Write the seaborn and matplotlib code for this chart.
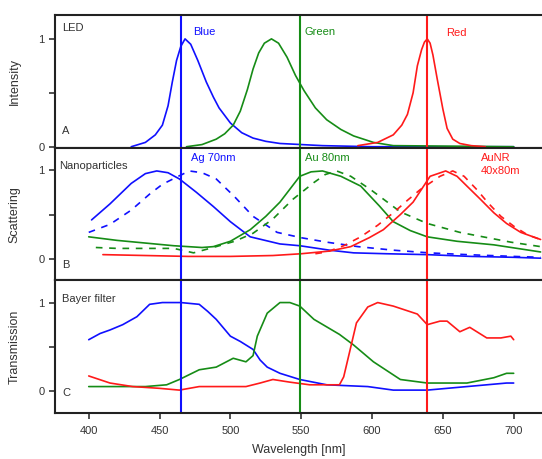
import pandas as pd
import matplotlib
matplotlib.use("Agg")
import matplotlib.pyplot as plt
import seaborn as sns

# LED emission (panel A)
led_blue_x = [430, 440, 447, 452, 456, 459, 462, 465, 468, 472, 477, 483, 488, 492, 500, 508, 516, 525, 535, 550, 565, 600, 700]
led_blue_y = [0.0, 0.04, 0.11, 0.2, 0.38, 0.6, 0.8, 0.93, 1.0, 0.95, 0.8, 0.6, 0.46, 0.36, 0.22, 0.13, 0.08, 0.05, 0.03, 0.02, 0.01, 0.0, 0.0]
led_green_x = [469, 480, 490, 496, 502, 507, 512, 516, 520, 524, 529, 534, 540, 546, 552, 560, 568, 578, 587, 601, 615, 700]
led_green_y = [0.0, 0.02, 0.07, 0.12, 0.2, 0.33, 0.53, 0.72, 0.87, 0.96, 1.0, 0.96, 0.83, 0.66, 0.52, 0.36, 0.25, 0.16, 0.1, 0.04, 0.01, 0.0]
led_red_x = [590, 604, 615, 621, 625, 629, 632, 635, 637, 639, 641, 643, 646, 650, 653, 657, 662, 670, 680]
led_red_y = [0.01, 0.04, 0.11, 0.2, 0.3, 0.5, 0.75, 0.9, 0.97, 1.0, 0.96, 0.85, 0.63, 0.35, 0.17, 0.07, 0.03, 0.01, 0.0]

# nanoparticle scattering (panel B)
ag_x = [402, 415, 430, 440, 448, 456, 464, 476, 488, 500, 514, 535, 549, 570, 587, 610, 639, 670, 700, 719]
ag_y = [0.44, 0.62, 0.85, 0.96, 0.99, 0.97, 0.9, 0.75, 0.59, 0.42, 0.25, 0.17, 0.15, 0.1, 0.07, 0.06, 0.05, 0.03, 0.02, 0.01]
ag_d_x = [400, 415, 430, 443, 452, 462, 471, 480, 490, 503, 516, 533, 550, 568, 590, 615, 640, 667, 700, 719]
ag_d_y = [0.3, 0.39, 0.55, 0.73, 0.84, 0.92, 0.99, 0.97, 0.9, 0.7, 0.48, 0.3, 0.24, 0.19, 0.14, 0.1, 0.07, 0.05, 0.03, 0.02]
au_x = [400, 420, 440, 460, 480, 488, 500, 514, 525, 535, 549, 557, 565, 578, 592, 605, 615, 627, 639, 660, 686, 719]
au_y = [0.25, 0.21, 0.18, 0.15, 0.13, 0.14, 0.2, 0.33, 0.48, 0.64, 0.93, 0.98, 0.99, 0.93, 0.82, 0.6, 0.42, 0.32, 0.25, 0.2, 0.16, 0.08]
au_d_x = [405, 420, 440, 460, 474, 490, 503, 516, 530, 544, 559, 567, 575, 585, 599, 610, 620, 639, 662, 698, 719]
au_d_y = [0.13, 0.12, 0.12, 0.12, 0.07, 0.14, 0.2, 0.29, 0.45, 0.67, 0.86, 0.95, 0.99, 0.93, 0.78, 0.65, 0.53, 0.4, 0.3, 0.19, 0.14]
nr_x = [410, 440, 470, 500, 530, 550, 570, 585, 598, 608, 620, 629, 641, 652, 660, 667, 676, 686, 695, 705, 719]
nr_y = [0.05, 0.04, 0.03, 0.03, 0.04, 0.06, 0.09, 0.14, 0.24, 0.33, 0.5, 0.64, 0.93, 0.99, 0.93, 0.82, 0.68, 0.52, 0.4, 0.3, 0.22]
nr_d_x = [560, 568, 580, 592, 604, 615, 625, 634, 648, 657, 665, 674, 682, 691, 700, 710, 719]
nr_d_y = [0.06, 0.08, 0.15, 0.25, 0.38, 0.52, 0.66, 0.78, 0.93, 0.99, 0.93, 0.78, 0.63, 0.48, 0.37, 0.27, 0.22]

# Bayer filter transmission (panel C)
bf_blue_x = [400, 408, 415, 424, 434, 443, 452, 465, 478, 484, 490, 500, 507, 516, 521, 526, 535, 549, 568, 597, 615, 639, 667, 695, 700]
bf_blue_y = [0.58, 0.65, 0.69, 0.75, 0.84, 0.98, 1.0, 1.0, 0.98, 0.9, 0.81, 0.62, 0.56, 0.47, 0.35, 0.27, 0.2, 0.13, 0.07, 0.05, 0.01, 0.01, 0.05, 0.09, 0.09]
bf_green_x = [400, 420, 440, 455, 464, 478, 490, 502, 511, 516, 519, 526, 535, 542, 549, 559, 577, 587, 601, 620, 639, 667, 686, 695, 700]
bf_green_y = [0.05, 0.05, 0.05, 0.07, 0.13, 0.24, 0.27, 0.37, 0.33, 0.4, 0.62, 0.88, 1.0, 1.0, 0.96, 0.81, 0.64, 0.52, 0.33, 0.13, 0.09, 0.09, 0.15, 0.2, 0.2]
bf_red_x = [400, 415, 431, 450, 464, 478, 511, 521, 530, 542, 556, 577, 580, 584, 589, 597, 604, 615, 632, 639, 648, 653, 662, 669, 681, 691, 698, 700]
bf_red_y = [0.17, 0.09, 0.05, 0.03, 0.01, 0.05, 0.05, 0.09, 0.13, 0.1, 0.07, 0.07, 0.16, 0.43, 0.77, 0.95, 1.0, 0.96, 0.87, 0.75, 0.79, 0.79, 0.67, 0.72, 0.6, 0.6, 0.62, 0.58]

led_lines = [465, 549, 639]
line_colors = ["#1010ff", "#168c16", "#ff1a1a"]
xticks = [400, 450, 500, 550, 600, 650, 700]

sns.set_style("ticks")
plt.rcParams['font.family'] = ['Liberation Sans', 'DejaVu Sans']

fig, axes = plt.subplots(3, 1, figsize=(5.42, 4.59), dpi=100, sharex=True)
fig.subplots_adjust(left=0.101, right=1.0, top=0.967, bottom=0.1, hspace=0)
axA, axB, axC = axes

blue, green, red = line_colors
lw = 1.2

# A
for xs, ys, c in [(led_blue_x, led_blue_y, blue), (led_green_x, led_green_y, green), (led_red_x, led_red_y, red)]:
    sns.lineplot(x=xs, y=ys, color=c, lw=lw, ax=axA)
axA.set_ylim(-0.01, 1.22)

# B
for xs, ys, c, dashed in [(ag_x, ag_y, blue, False), (ag_d_x, ag_d_y, blue, True),
                          (au_x, au_y, green, False), (au_d_x, au_d_y, green, True),
                          (nr_x, nr_y, red, False), (nr_d_x, nr_d_y, red, True)]:
    l = sns.lineplot(x=xs, y=ys, color=c, lw=lw, ax=axB).lines[-1]
    if dashed:
        l.set_dashes((4, 4))
axB.set_ylim(-0.24, 1.25)

# C
for xs, ys, c in [(bf_blue_x, bf_blue_y, blue), (bf_green_x, bf_green_y, green), (bf_red_x, bf_red_y, red)]:
    sns.lineplot(x=xs, y=ys, color=c, lw=lw, ax=axC)
axC.set_ylim(-0.25, 1.25)

for ax, lab in zip(axes, ["Intensity", "Scattering", "Transmission"]):
    for v, c in zip(led_lines, line_colors):
        ax.axvline(v, color=c, lw=1.5)
    ax.set_yticks([0, 1])
    ax.set_yticks([0.5], minor=True)
    ax.tick_params(axis='y', which='both', direction='out', length=4, width=1.2, labelsize=8, colors='#333333')
    ax.tick_params(axis='x', direction='out', length=4, width=1.2, labelsize=8, colors='#333333', pad=5)
    ax.set_ylabel(lab, fontsize=9, color='#333333')
    ax.yaxis.set_label_coords(-0.07, 0.5)
    for s in ['top', 'bottom', 'left']:
        ax.spines[s].set_linewidth(1.5)
        ax.spines[s].set_color('#222222')
    ax.spines['right'].set_visible(False)

axC.set_xlim(376, 720)
axC.set_xticks(xticks)
axC.set_xlabel("Wavelength [nm]", fontsize=9, color='#333333', labelpad=6)

# annotations
axA.text(0.015, 0.94, "LED", transform=axA.transAxes, fontsize=8, color='#333333', va='top')
axA.text(0.015, 0.13, "A", transform=axA.transAxes, fontsize=8, color='#333333', va='center')
axA.text(474, 1.06, "Blue", color=blue, fontsize=8, va='center')
axA.text(552, 1.06, "Green", color=green, fontsize=8, va='center')
axA.text(652, 1.05, "Red", color=red, fontsize=8, va='center')

axB.text(0.008, 0.9, "Nanoparticles", transform=axB.transAxes, fontsize=8, color='#333333', va='top')
axB.text(0.015, 0.12, "B", transform=axB.transAxes, fontsize=8, color='#333333', va='center')
axB.text(472, 1.13, "Ag 70nm", color=blue, fontsize=8, va='center')
axB.text(553, 1.13, "Au 80nm", color=green, fontsize=8, va='center')
axB.text(677, 1.06, "AuNR\n40x80m", color=red, fontsize=8, va='center', linespacing=1.4)

axC.text(0.015, 0.9, "Bayer filter", transform=axC.transAxes, fontsize=8, color='#333333', va='top')
axC.text(0.015, 0.15, "C", transform=axC.transAxes, fontsize=8, color='#333333', va='center')

fig.savefig("out.png", dpi=100)
